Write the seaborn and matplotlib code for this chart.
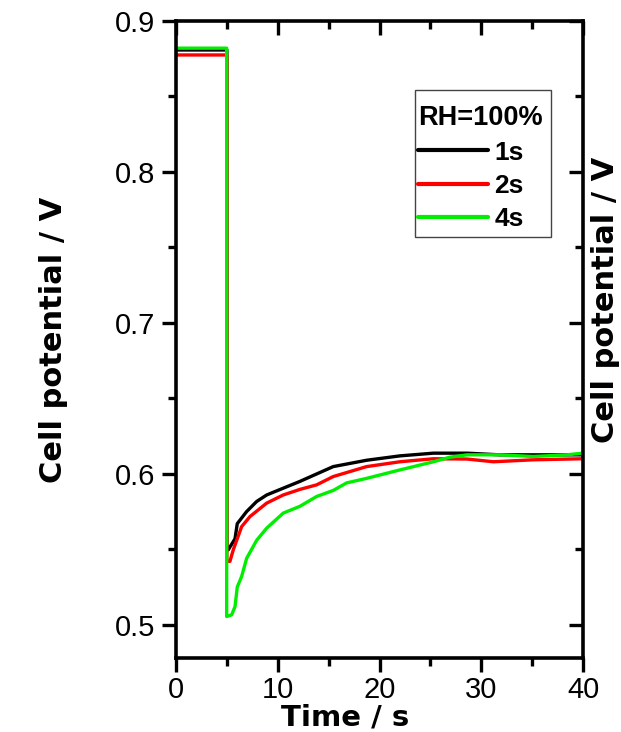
import numpy as np
import pandas as pd
import matplotlib
matplotlib.use("Agg")
import matplotlib.pyplot as plt
import seaborn as sns
from matplotlib.ticker import MultipleLocator, FormatStrFormatter
from matplotlib.lines import Line2D, TICKDOWN, TICKLEFT
from matplotlib.patches import Rectangle

# Cell potential transients (time in s, potential in V) for three purge durations
time_1s = [0.0, 5.0, 5.0, 5.14, 5.8, 6.02, 6.94, 7.93, 8.91, 10.54, 12.18, 15.45, 18.73, 22.0, 25.3, 28.6, 31.8, 35.1, 40.0]
volt_1s = [0.8808, 0.8808, 0.5497, 0.5497, 0.557, 0.567, 0.575, 0.5817, 0.586, 0.5905, 0.595, 0.6048, 0.609, 0.6119, 0.6137, 0.6137, 0.6126, 0.6126, 0.6126]

time_2s = [0.0, 5.0, 5.0, 5.3, 5.63, 6.45, 7.27, 8.91, 10.54, 12.18, 13.82, 15.45, 18.73, 22.0, 25.3, 28.6, 31.2, 35.1, 40.0]
volt_2s = [0.8775, 0.8775, 0.542, 0.542, 0.5497, 0.565, 0.5717, 0.5806, 0.586, 0.5897, 0.5927, 0.5982, 0.6048, 0.608, 0.610, 0.6098, 0.608, 0.6093, 0.610]

time_4s = [0.0, 4.98, 4.98, 5.47, 5.8, 6.02, 6.45, 6.94, 7.93, 8.91, 10.54, 12.18, 13.82, 15.45, 16.77, 18.73, 22.0, 25.3, 26.9, 28.6, 31.8, 35.1, 38.4, 40.0]
volt_4s = [0.882, 0.882, 0.5055, 0.5066, 0.512, 0.525, 0.532, 0.544, 0.556, 0.564, 0.574, 0.5785, 0.585, 0.589, 0.594, 0.597, 0.6026, 0.608, 0.611, 0.6126, 0.6126, 0.6115, 0.6126, 0.6137]

series_labels = ["1s", "2s", "4s"]
series_colors = ["#000000", "#ff0000", "#00ee00"]
legend_title = "RH=100%"

frames = []
for lab, t, v in zip(series_labels, [time_1s, time_2s, time_4s], [volt_1s, volt_2s, volt_4s]):
    frames.append(pd.DataFrame({"time": t, "volt": v, "series": lab}))
df = pd.concat(frames, ignore_index=True)

sns.set_theme(style="white")
plt.rcParams["font.family"] = ["Liberation Sans", "DejaVu Sans"]
for key in ["text.color", "axes.labelcolor", "xtick.color", "ytick.color"]:
    plt.rcParams[key] = "black"

W, H = 621, 732
fig = plt.figure(figsize=(W / 100, H / 100), dpi=100)
ax = fig.add_axes([176 / W, 1 - 658 / H, 407 / W, 637 / H])

sns.lineplot(data=df, x="time", y="volt", hue="series",
             palette=dict(zip(series_labels, series_colors)),
             sort=False, estimator=None, linewidth=2.4, legend=False, ax=ax)

ax.set_xlim(0, 40)
ax.set_ylim(0.478, 0.9)
ax.xaxis.set_major_locator(MultipleLocator(10))
ax.xaxis.set_minor_locator(MultipleLocator(5))
ax.yaxis.set_major_locator(MultipleLocator(0.1))
ax.yaxis.set_minor_locator(MultipleLocator(0.05))
ax.yaxis.set_major_formatter(FormatStrFormatter("%.1f"))

for sp in ax.spines.values():
    sp.set_visible(True)
    sp.set_linewidth(2.6)
    sp.set_color("black")

ax.tick_params(axis="both", which="major", direction="out", length=10, width=2.4,
               labelsize=21, colors="black", pad=5)
ax.tick_params(axis="both", which="minor", direction="out", length=6, width=2.4, colors="black")
ax.tick_params(axis="x", which="major", pad=3)
ax.tick_params(axis="x", which="both", top=True, bottom=True)
ax.tick_params(axis="y", which="both", left=True, right=True)
# mirrored ticks on top/right pointing into the frame
for t in ax.xaxis.get_major_ticks() + ax.xaxis.get_minor_ticks():
    t.tick2line.set_marker(TICKDOWN)
for t in ax.yaxis.get_major_ticks() + ax.yaxis.get_minor_ticks():
    t.tick2line.set_marker(TICKLEFT)

label_font = {"family": "DejaVu Sans", "size": 22, "weight": "bold"}
ax.set_xlabel("Time / s", fontfamily="DejaVu Sans", fontsize=21, fontweight="bold", va="bottom")
ax.xaxis.set_label_coords((345 - 176) / 407, (658 - 731) / 637)
ax.set_ylabel("Cell potential / V", fontdict=label_font, labelpad=34)
fig.text(605 / W, 1 - 300 / H, "Cell potential / V", rotation=90,
         ha="center", va="center", fontfamily="DejaVu Sans", fontsize=22, fontweight="bold")

# legend box outline, then the legend entries inside it
frame = Rectangle((415 / W, 1 - 237 / H), 136 / W, 147 / H, transform=fig.transFigure,
                  facecolor="white", edgecolor="#444444", linewidth=1.0, zorder=4)
ax.add_patch(frame)
handles = [Line2D([], [], color=c, linewidth=3) for c in series_colors]
leg = ax.legend(handles, series_labels, title=legend_title, loc="upper left",
                bbox_to_anchor=((418 - 176) / 407, (658 - 105) / 637), borderaxespad=0,
                frameon=False, handlelength=2.65, handletextpad=0.25, labelspacing=0.36,
                borderpad=0, prop={"size": 19, "weight": "bold"},
                title_fontproperties={"size": 19.5, "weight": "bold"})
leg.set_zorder(6)
leg._legend_box.align = "left"

fig.savefig("out.png", dpi=100)
